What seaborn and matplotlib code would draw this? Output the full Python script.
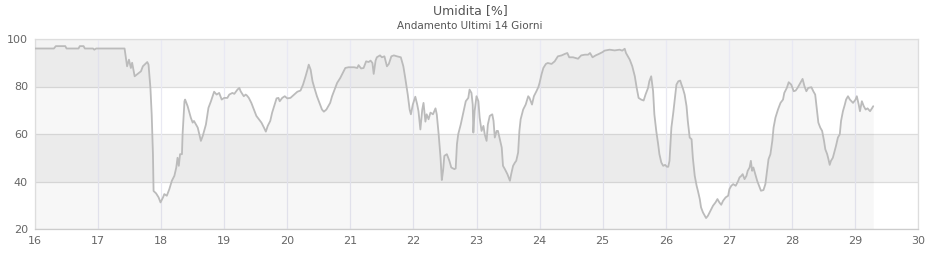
import matplotlib
matplotlib.use("Agg")
import matplotlib.pyplot as plt
import seaborn as sns
import pandas as pd

# Data (day of month, relative humidity %)
day = [16.0, 16.3, 16.33, 16.48, 16.5, 16.69, 16.71, 16.77, 16.79, 16.92, 16.94, 16.97, 17.42,
       17.46, 17.49, 17.52, 17.54, 17.58, 17.68, 17.71, 17.78, 17.8, 17.83, 17.85, 17.87, 17.88,
       17.92, 17.96, 17.99, 18.03, 18.05, 18.09, 18.13, 18.17, 18.21, 18.24, 18.26, 18.28, 18.3,
       18.33, 18.34, 18.37, 18.38, 18.42, 18.47, 18.5, 18.52, 18.58, 18.63, 18.66, 18.71, 18.75,
       18.79, 18.84, 18.88, 18.92, 18.96, 19.0, 19.05, 19.08, 19.13, 19.16, 19.21, 19.24, 19.26,
       19.31, 19.34, 19.36, 19.39, 19.43, 19.47, 19.51, 19.55, 19.59, 19.63, 19.66, 19.69, 19.73,
       19.76, 19.8, 19.83, 19.86, 19.88, 19.92, 19.96, 20.0, 20.05, 20.11, 20.16, 20.21, 20.25,
       20.29, 20.32, 20.34, 20.37, 20.4, 20.43, 20.47, 20.52, 20.55, 20.58, 20.62, 20.68, 20.71,
       20.75, 20.79, 20.84, 20.88, 20.92, 20.97, 21.06, 21.11, 21.13, 21.17, 21.21, 21.25, 21.29,
       21.32, 21.35, 21.37, 21.4, 21.42, 21.47, 21.5, 21.54, 21.58, 21.61, 21.65, 21.69, 21.74,
       21.8, 21.84, 21.87, 21.91, 21.94, 21.96, 21.99, 22.03, 22.06, 22.08, 22.11, 22.14, 22.16,
       22.19, 22.21, 22.24, 22.27, 22.31, 22.35, 22.37, 22.4, 22.43, 22.45, 22.47, 22.49, 22.53,
       22.57, 22.6, 22.65, 22.67, 22.69, 22.71, 22.75, 22.79, 22.83, 22.87, 22.89, 22.92, 22.94,
       22.95, 22.97, 23.0, 23.03, 23.05, 23.08, 23.11, 23.13, 23.16, 23.18, 23.21, 23.25, 23.27,
       23.29, 23.32, 23.34, 23.37, 23.4, 23.42, 23.45, 23.49, 23.53, 23.55, 23.58, 23.61, 23.63,
       23.66, 23.68, 23.7, 23.74, 23.78, 23.82, 23.84, 23.88, 23.91, 23.95, 23.98, 24.0, 24.03,
       24.06, 24.1, 24.13, 24.19, 24.24, 24.29, 24.35, 24.4, 24.44, 24.47, 24.53, 24.61, 24.66,
       24.72, 24.77, 24.8, 24.84, 24.89, 24.94, 25.0, 25.03, 25.11, 25.19, 25.27, 25.31, 25.35,
       25.37, 25.43, 25.47, 25.51, 25.54, 25.57, 25.61, 25.65, 25.68, 25.72, 25.74, 25.77, 25.8,
       25.82, 25.85, 25.88, 25.9, 25.93, 25.96, 25.99, 26.02, 26.04, 26.06, 26.09, 26.12, 26.14,
       26.17, 26.2, 26.23, 26.25, 26.27, 26.3, 26.33, 26.35, 26.38, 26.41, 26.43, 26.46, 26.49,
       26.51, 26.54, 26.56, 26.59, 26.62, 26.64, 26.67, 26.71, 26.75, 26.79, 26.82, 26.85, 26.88,
       26.91, 26.95, 26.99, 27.01, 27.04, 27.07, 27.11, 27.15, 27.17, 27.2, 27.22, 27.25, 27.28,
       27.3, 27.33, 27.35, 27.37, 27.39, 27.42, 27.45, 27.49, 27.51, 27.55, 27.58, 27.6, 27.63,
       27.66, 27.69, 27.71, 27.74, 27.78, 27.82, 27.86, 27.88, 27.92, 27.95, 27.99, 28.03, 28.06,
       28.09, 28.12, 28.15, 28.17, 28.2, 28.23, 28.26, 28.31, 28.34, 28.37, 28.4, 28.42, 28.45,
       28.48, 28.51, 28.53, 28.56, 28.58, 28.6, 28.62, 28.65, 28.68, 28.7, 28.73, 28.76, 28.78,
       28.81, 28.84, 28.86, 28.89, 28.92, 28.97, 29.01, 29.03, 29.06, 29.08, 29.11, 29.14, 29.17,
       29.2, 29.24, 29.27, 29.29]

humidity = [96, 96, 97, 97, 96, 96, 97, 97, 96, 96, 95.5, 96, 96,
            88.5, 91.3, 87.8, 90, 84.3, 86.4, 88.5, 90.3, 89.2, 79.4, 68.3, 51.5, 36,
            35, 33.3, 31.2, 33.3, 34.7, 34, 36.8, 40.3, 42.4, 45.9, 50, 46.6, 51.5,
            51.5, 59.9, 73.8, 74.5, 71.7, 66.9, 64.8, 65.5, 62.7, 57.1, 59.2, 64, 71,
            73.8, 77.8, 76.6, 77.3, 74.5, 75.2, 75.2, 76.6, 77.3, 76.9, 78.7, 79.4, 78,
            75.9, 76.6, 76.2, 75.2, 73.1, 70.3, 67.6, 66.2, 64.8, 62.7, 61, 63.4, 65.5,
            69, 72.4, 75, 75.2, 73.8, 75.2, 75.9, 75, 75.2, 76.6, 77.8, 78.3, 80.8,
            84.3, 87.1, 89.2, 87.1, 82.2, 79.4, 75.9, 72.4, 70.3, 69.4, 70.3, 73.1, 75.9,
            78.7, 81.5, 83.6, 85.7, 87.8, 88.1, 88.1, 87.8, 89, 87.6, 87.8, 90.6, 90.3,
            90.9, 89.9, 85.3, 90.9, 92.3, 93.1, 92.3, 92.7, 88.5, 89.5, 92.7, 93.1, 92.7,
            92.3, 88.5, 83.6, 76.6, 70.3, 68.3, 72.4, 75.7, 72.4, 69.6, 61.9, 70.3, 73.1,
            65.2, 68.3, 66.2, 69, 68.3, 70.8, 68.3, 59.9, 50, 40.6, 44.5, 50.8, 51.5,
            48.7, 45.9, 45.2, 45.5, 55.7, 59.9, 64, 69, 73.8, 75.2, 78.7, 77.3, 72.4,
            60.6, 69.6, 75.9, 73.8, 66.9, 61.3, 63.4, 59.9, 57.1, 64, 67.6, 68.3, 65.5,
            58.5, 61.3, 61.3, 57.8, 54.3, 46.6, 45.2, 43.1, 40.3, 43.1, 46.6, 48, 48.7,
            52.2, 61.3, 66.2, 70.3, 72.4, 75.9, 75.2, 72.4, 75.9, 78, 79.7, 81.5, 85,
            87.8, 89.5, 89.9, 89.5, 90.6, 92.7, 93.1, 93.7, 94.1, 92.3, 92.3, 91.7, 93.1,
            93.4, 93.4, 94.1, 92.3, 93.1, 93.7, 94.5, 95.1, 95.5, 95.2, 95.5, 95.1, 95.9,
            94.1, 91.3, 88.5, 84.3, 79.4, 75.2, 74.5, 74.1, 76.6, 79.4, 82.2, 84.3, 78,
            68.3, 61.3, 55.7, 51.5, 48, 46.6, 47, 46.2, 46.2, 48.7, 62.7, 69, 73.8,
            80.8, 82.2, 82.5, 80.8, 79.4, 76.6, 71.7, 65.5, 58.5, 57.8, 50, 42.4, 38.2,
            36.1, 32.6, 29.1, 27, 25.6, 24.6, 25.6, 27.7, 29.8, 31.2, 32.6, 31.2, 30.2,
            31.9, 33.3, 34, 36.8, 38.2, 38.9, 38.2, 40.3, 41.7, 42.4, 43.1, 41, 42.4,
            44.5, 45.9, 48.7, 44.5, 45.9, 43.1, 40.3, 37.5, 36.1, 36.4, 38.9, 43.1, 49.4,
            51.5, 57.1, 62.7, 66.9, 70.3, 73.1, 74.5, 77.3, 79.4, 81.8, 80.8, 78, 78.3,
            79.4, 80.8, 82.2, 83.2, 80.1, 78, 79.4, 79.7, 78, 76.6, 69.6, 64.8, 62.7,
            61.3, 57.1, 53.6, 51.5, 49.4, 47, 48.7, 50, 52.9, 55, 58.5, 59.9, 65.5,
            69.6, 72.4, 74.5, 75.9, 74.5, 73.1, 74.5, 75.9, 72.4, 69.6, 73.8, 71.7, 70.3,
            70.8, 69.6, 70.8, 71.7]

x_ticks = list(range(16, 31))
y_ticks = [20, 40, 60, 80, 100]
bands = [(40, 60), (80, 100)]

title = "Umidita [%]"
subtitle = "Andamento Ultimi 14 Giorni"

df = pd.DataFrame({"day": day, "humidity": humidity})

sns.set_style("white")
plt.rcParams["font.family"] = ["DejaVu Sans"]

fig = plt.figure(figsize=(9.4, 2.6), dpi=100)
ax = fig.add_axes([35 / 940, 31 / 260, 883 / 940, 190 / 260])

# alternate plot bands
for lo, hi in bands:
    ax.axhspan(lo, hi, color="#f3f3f3", zorder=0, linewidth=0)

# grid lines
for yv in y_ticks:
    ax.axhline(yv, color="#dcdcdc", linewidth=0.9, zorder=1)
for xv in x_ticks:
    ax.axvline(xv, color="#e9e9f3", linewidth=0.9, zorder=1)

# area under the curve
ax.fill_between(df["day"], df["humidity"], 20, color="black", alpha=0.03,
                linewidth=0, zorder=2)
sns.lineplot(data=df, x="day", y="humidity", ax=ax, color="#bbbbbb",
             linewidth=1.3, zorder=3, estimator=None, sort=False)

ax.set_xlim(16, 30)
ax.set_ylim(20, 100)
ax.set_xticks(x_ticks)
ax.set_xticklabels([str(t) for t in x_ticks])
ax.set_yticks(y_ticks)
ax.set_yticklabels([str(t) for t in y_ticks])
ax.tick_params(axis="both", length=0, labelsize=8, labelcolor="#666666")
ax.tick_params(axis="x", pad=5)
ax.tick_params(axis="y", pad=5)
ax.set_xlabel("")
ax.set_ylabel("")
for s in ax.spines.values():
    s.set_visible(True)
    s.set_color("#dddddd")
    s.set_linewidth(0.9)
ax.spines["bottom"].set_color("#cccccc")

fig.text(0.5, 1 - 11 / 260, title, ha="center", va="center", fontsize=9,
         color="#555555")
fig.text(0.5, 1 - 26 / 260, subtitle, ha="center", va="center", fontsize=7.5,
         color="#555555")

fig.savefig("out.png", dpi=100, facecolor="white")
